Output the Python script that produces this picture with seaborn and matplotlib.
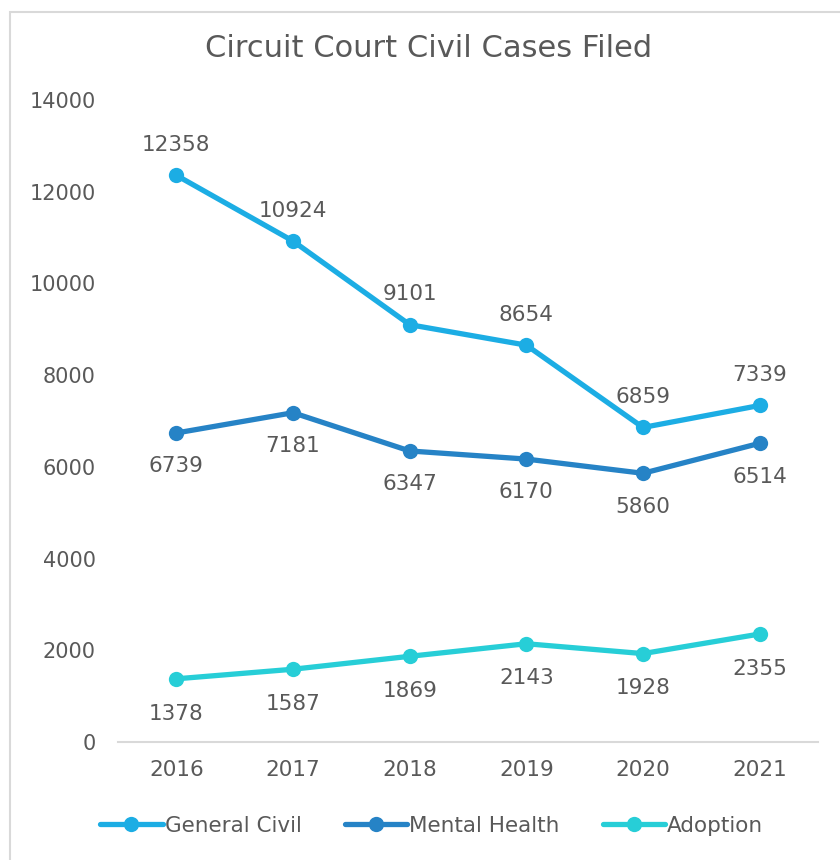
import matplotlib
matplotlib.use("Agg")
import matplotlib.pyplot as plt
import matplotlib.patches as patches
import seaborn as sns
import pandas as pd

years = [2016, 2017, 2018, 2019, 2020, 2021]
general_civil = [12358, 10924, 9101, 8654, 6859, 7339]
mental_health = [6739, 7181, 6347, 6170, 5860, 6514]
adoption = [1378, 1587, 1869, 2143, 1928, 2355]
series_names = ["General Civil", "Mental Health", "Adoption"]
colors = ["#1CADE4", "#2683C6", "#27CED7"]
y_ticks = [0, 2000, 4000, 6000, 8000, 10000, 12000, 14000]


def main():
    sns.set_theme(style="white")
    plt.rcParams['font.family'] = ['DejaVu Sans']
    text_color = "#595959"

    df = pd.DataFrame({
        "Year": years * 3,
        "Cases": general_civil + mental_health + adoption,
        "Series": [s for s in series_names for _ in years],
    })

    fig = plt.figure(figsize=(8.4, 8.6), dpi=100)
    ax = fig.add_axes([0.1405, 0.1372, 0.8333, 0.7465])

    sns.lineplot(data=df, x="Year", y="Cases", hue="Series", hue_order=series_names,
                 palette=colors, marker="o", markersize=11, markeredgewidth=0,
                 linewidth=3.8, ax=ax, legend=False)

    # data labels: first series above, the others below
    offsets = {"General Civil": 22, "Mental Health": -24, "Adoption": -25}
    for name, vals in zip(series_names, [general_civil, mental_health, adoption]):
        for x, v in zip(years, vals):
            ax.annotate(str(v), (x, v), xytext=(0, offsets[name]), textcoords="offset points",
                        ha="center", va="center", fontsize=15.5, color=text_color)

    ax.set_xlim(2015.5, 2021.5)
    ax.set_ylim(0, 14000)
    ax.set_xticks(years)
    ax.set_xticklabels([str(y) for y in years])
    ax.set_yticks(y_ticks)
    ax.set_yticklabels([str(t) for t in y_ticks])
    ax.tick_params(axis="both", length=0, labelcolor=text_color)
    ax.tick_params(axis="x", pad=13, labelsize=15.5)
    ax.tick_params(axis="y", pad=16, labelsize=15)
    ax.set_xlabel("")
    ax.set_ylabel("")
    for side in ["top", "right", "left"]:
        ax.spines[side].set_visible(False)
    ax.spines["bottom"].set_color("#D9D9D9")
    ax.spines["bottom"].set_linewidth(1.5)

    fig.text(0.51, 0.944, "Circuit Court Civil Cases Filed", ha="center", va="center",
             fontsize=22, color=text_color)

    # legend
    handles = [plt.Line2D([], [], color=c, linewidth=3.8, marker="o", markersize=11,
                          markeredgewidth=0) for c in colors]
    fig.legend(handles, series_names, loc="center", bbox_to_anchor=(0.514, 0.04), ncol=3,
               frameon=False, fontsize=15.5, labelcolor=text_color, handlelength=2.9,
               handletextpad=0.1, columnspacing=2.0)

    # chart border
    fig.patches.append(patches.Rectangle((10 / 840, -0.05), 1.0, 1 - 12 / 860 + 0.05,
                                         transform=fig.transFigure, fill=False,
                                         edgecolor="#D9D9D9", linewidth=1.5))

    fig.savefig("out.png", dpi=100)


if __name__ == "__main__":
    main()
